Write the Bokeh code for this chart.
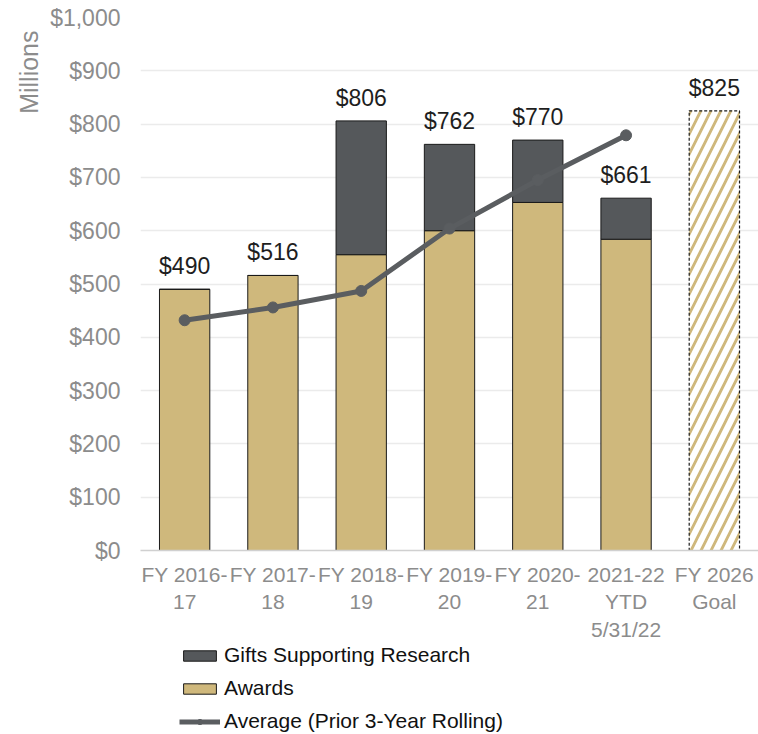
from bokeh.plotting import figure
from bokeh.layouts import column
from bokeh.models import (ColumnDataSource, Legend, LegendItem, Title,
                          NumeralTickFormatter, LabelSet, FixedTicker, Range1d)
from bokeh.core.properties import value
from bokeh.embed import file_html
from bokeh.resources import INLINE

# ---- data ----
categories = ["FY 2016-\n17", "FY 2017-\n18", "FY 2018-\n19", "FY 2019-\n20",
              "FY 2020-\n21", "2021-22\nYTD\n5/31/22", "FY 2026\nGoal"]
actual_categories = categories[:6]
awards = [490, 516, 555, 600, 653, 584]
gifts = [0, 0, 251, 162, 117, 77]
totals = [490, 516, 806, 762, 770, 661]
goal_category = ["FY 2026\nGoal"]
goal_value = [825]
average = [432, 456, 487, 604, 695, 779]
y_ticks = [0, 100, 200, 300, 400, 500, 600, 700, 800, 900, 1000]
legend_labels = ["Gifts Supporting Research", "Awards",
                 "Average (Prior 3-Year Rolling)"]

GOLD = "#CFB87C"
DARK = "#55585B"
LINE = "#5A5D60"
GRAY_TXT = "#8C8C8C"
FONT = "Liberation Sans"

src = ColumnDataSource(dict(cat=actual_categories, awards=awards, gifts=gifts))
lab_src = ColumnDataSource(dict(
    cat=actual_categories + goal_category,
    y=totals + goal_value,
    txt=["$%d" % v for v in totals + goal_value]))
avg_src = ColumnDataSource(dict(cat=actual_categories, avg=average))

p = figure(x_range=categories, y_range=(0, 1000), width=758, height=643,
           output_backend="svg", toolbar_location=None,
           min_border_top=17, min_border_right=0, min_border_bottom=92,
           min_border_left=140)

bars = p.vbar_stack(["awards", "gifts"], x="cat", width=0.57, source=src,
                    fill_color=[GOLD, DARK], line_color="#1a1a1a", line_width=1)

p.vbar(x=goal_category, top=goal_value, width=0.57, fill_color="white",
       hatch_pattern="/", hatch_color=GOLD, hatch_weight=2.8, hatch_scale=20,
       line_color="#1a1a1a", line_dash="3 2", line_width=1.2)

ln = p.line(x="cat", y="avg", source=avg_src, line_width=5, line_color=LINE)
sc = p.scatter(x="cat", y="avg", source=avg_src, size=11, fill_color=LINE,
               line_color=LINE)

labels = LabelSet(x="cat", y="y", text="txt", source=lab_src, y_offset=10,
                  text_align="center", text_baseline="bottom",
                  text_font_size="23px", text_color="#1e1e1e",
                  text_font=value(FONT))
p.add_layout(labels)

p.outline_line_color = None
p.xgrid.grid_line_color = None
p.ygrid.grid_line_color = "#EBEBEB"
p.ygrid.grid_line_width = 1.5

p.yaxis.ticker = FixedTicker(ticks=y_ticks)
p.yaxis.formatter = NumeralTickFormatter(format="$0,0")
p.yaxis.axis_line_color = None
p.yaxis.major_tick_line_color = None
p.yaxis.major_tick_out = 0
p.yaxis.major_tick_in = 0
p.yaxis.minor_tick_line_color = None
p.yaxis.major_label_text_font_size = "23px"
p.yaxis.major_label_text_color = GRAY_TXT
p.yaxis.major_label_text_font = FONT
p.yaxis.major_label_standoff = 20

p.xaxis.axis_line_color = "#D0D0D0"
p.xaxis.axis_line_width = 1.5
p.xaxis.major_tick_line_color = None
p.xaxis.major_tick_out = 0
p.xaxis.major_tick_in = 0
p.xaxis.minor_tick_line_color = None
p.xaxis.major_label_text_font_size = "21px"
p.xaxis.major_label_text_color = GRAY_TXT
p.xaxis.major_label_text_font = FONT
p.xaxis.major_label_standoff = 12

t = Title(text="Millions", align="right", text_font_size="25px",
          text_color=GRAY_TXT, text_font=FONT, text_font_style="normal",
          offset=13)
p.add_layout(t, "left")

# legend in its own strip below the chart (frame aligned with the chart)
lf = figure(width=758, height=91, output_backend="svg", toolbar_location=None,
            x_axis_type=None, y_axis_type=None, min_border=0,
            x_range=Range1d(10, 11), y_range=Range1d(10, 11))
lf.outline_line_color = None
lf.xgrid.visible = False
lf.ygrid.visible = False
proxy = ColumnDataSource(dict(x=[0], y=[0]))
r_g = lf.vbar(x="x", top="y", width=0.5, source=proxy,
              fill_color=DARK, line_color="#1a1a1a")
r_a = lf.vbar(x="x", top="y", width=0.5, source=proxy,
              fill_color=GOLD, line_color="#1a1a1a")
r_l = lf.line(x="x", y="y", source=proxy, line_width=5, line_color=LINE)
r_s = lf.scatter(x="x", y="y", source=proxy, size=9, fill_color=LINE,
                 line_color=LINE)

legend = Legend(items=[
    LegendItem(label=legend_labels[0], renderers=[r_g]),
    LegendItem(label=legend_labels[1], renderers=[r_a]),
    LegendItem(label=legend_labels[2], renderers=[r_l, r_s]),
], location=(39, 1), orientation="vertical")
legend.label_text_font_size = "21px"
legend.label_text_font = FONT
legend.label_text_color = "#111111"
legend.glyph_width = 41
legend.glyph_height = 13
legend.label_height = 24
legend.label_standoff = 4
legend.spacing = 9
legend.padding = 0
legend.margin = 0
legend.border_line_color = None
legend.background_fill_alpha = 0
lf.add_layout(legend)

layout = column(p, lf, spacing=0)
open("out.html", "w").write(file_html(layout, INLINE))
